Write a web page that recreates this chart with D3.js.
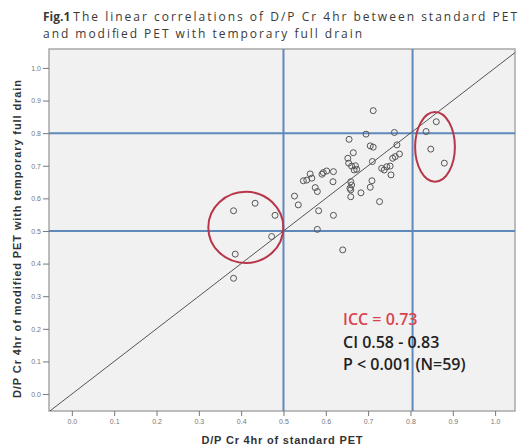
<!DOCTYPE html>
<html>
<head>
<meta charset="utf-8">
<script src="https://cdn.jsdelivr.net/npm/d3@7"></script>
<style>
  body { margin: 0; background: #fff; }
  svg { display: block; }
</style>
</head>
<body>
<svg></svg>
<script>
const width = 519;
const height = 447;

// D/P Cr 4hr: standard PET (x) vs modified PET with temporary full drain (y)
const standardPET = [
    0.712, 0.695, 0.762, 0.655, 0.705, 0.712, 0.768, 0.665, 0.774, 0.764,
    0.758, 0.652, 0.654, 0.661, 0.710, 0.673, 0.667, 0.732, 0.744, 0.752,
    0.738, 0.754, 0.594, 0.602, 0.618, 0.591, 0.563, 0.567, 0.547, 0.555,
    0.617, 0.659, 0.661, 0.657, 0.659, 0.709, 0.705, 0.575, 0.580, 0.683,
    0.659, 0.526, 0.535, 0.727, 0.583, 0.618, 0.580, 0.640, 0.382, 0.433,
    0.480, 0.472, 0.386, 0.382, 0.861, 0.837, 0.848, 0.880, 0.670
];
const modifiedPET = [
    0.869, 0.797, 0.802, 0.781, 0.761, 0.757, 0.764, 0.740, 0.736, 0.728,
    0.723, 0.723, 0.708, 0.699, 0.713, 0.689, 0.687, 0.692, 0.697, 0.699,
    0.687, 0.672, 0.679, 0.684, 0.682, 0.674, 0.675, 0.662, 0.654, 0.656,
    0.651, 0.651, 0.641, 0.631, 0.626, 0.654, 0.634, 0.633, 0.621, 0.617,
    0.605, 0.607, 0.580, 0.590, 0.562, 0.548, 0.505, 0.442, 0.562, 0.585,
    0.548, 0.483, 0.429, 0.355, 0.835, 0.805, 0.751, 0.708, 0.700
];

const tickValues = [0, 0.1, 0.2, 0.3, 0.4, 0.5, 0.6, 0.7, 0.8, 0.9, 1.0];
const xRefLines = [0.5, 0.805];
const yRefLines = [0.5, 0.8];

// highlighted groups: [cx, cy, rx, ry] in data units
const highlightEllipses = [
    [0.411, 0.511, 0.0886, 0.109],
    [0.858, 0.758, 0.047, 0.107]
];

const statsLines = ["ICC = 0.73", "CI 0.58 - 0.83", "P < 0.001 (N=59)"];

const plot = { left: 49, top: 49, right: 515, bottom: 411 };

const svg = d3.select("svg")
    .attr("width", width)
    .attr("height", height);

const x = d3.scaleLinear().domain([-0.054, 1.047]).range([plot.left, plot.right]);
const y = d3.scaleLinear().domain([-0.052, 1.058]).range([plot.bottom, plot.top]);

// title (bold "Fig.1" then the caption, stretched to the reference width)
const titleFont = "'Open Sans', sans-serif";
const figLabel = svg.append("text")
    .attr("x", 43)
    .attr("y", 21)
    .style("font-family", titleFont)
    .style("font-size", "12px")
    .style("font-weight", "bold")
    .style("fill", "#3a3a3a")
    .text("Fig.1");
const figW = figLabel.node().getComputedTextLength();

svg.append("text")
    .attr("x", 43 + figW + 3)
    .attr("y", 21)
    .attr("textLength", 517 - (43 + figW + 3))
    .attr("lengthAdjust", "spacing")
    .style("font-family", titleFont)
    .style("font-size", "12px")
    .style("fill", "#3a3a3a")
    .text("The linear correlations of D/P Cr 4hr between standard PET");
svg.append("text")
    .attr("x", 43)
    .attr("y", 37.5)
    .attr("textLength", 319)
    .attr("lengthAdjust", "spacing")
    .style("font-family", titleFont)
    .style("font-size", "12px")
    .style("fill", "#3a3a3a")
    .text("and modified PET with temporary full drain");

// plot background
svg.append("rect")
    .attr("x", plot.left)
    .attr("y", plot.top)
    .attr("width", plot.right - plot.left)
    .attr("height", plot.bottom - plot.top)
    .style("fill", "#f1f1f1")
    .style("stroke", "#a8a8a8")
    .style("stroke-width", 1.5);

svg.append("clipPath").attr("id", "clip")
    .append("rect")
    .attr("x", plot.left)
    .attr("y", plot.top)
    .attr("width", plot.right - plot.left)
    .attr("height", plot.bottom - plot.top);

const g = svg.append("g").attr("clip-path", "url(#clip)");

// reference lines
g.selectAll(".xref")
    .data(xRefLines)
    .enter()
    .append("line")
    .attr("x1", d => x(d)).attr("x2", d => x(d))
    .attr("y1", plot.top).attr("y2", plot.bottom)
    .style("stroke", "#5f88bd")
    .style("stroke-width", 2);

g.selectAll(".yref")
    .data(yRefLines)
    .enter()
    .append("line")
    .attr("y1", d => y(d)).attr("y2", d => y(d))
    .attr("x1", plot.left).attr("x2", plot.right)
    .style("stroke", "#5f88bd")
    .style("stroke-width", 2);

// identity line
g.append("line")
    .attr("x1", x(-0.06)).attr("y1", y(-0.06))
    .attr("x2", x(1.1)).attr("y2", y(1.1))
    .style("stroke", "#555")
    .style("stroke-width", 1);

// points
const pts = standardPET.map((v, i) => [v, modifiedPET[i]]);
g.selectAll(".pt")
    .data(pts)
    .enter()
    .append("circle")
    .attr("cx", d => x(d[0]))
    .attr("cy", d => y(d[1]))
    .attr("r", 3)
    .style("fill", "none")
    .style("stroke", "#555")
    .style("stroke-width", 1);

// highlight ellipses
g.selectAll(".hl")
    .data(highlightEllipses)
    .enter()
    .append("ellipse")
    .attr("cx", d => x(d[0]))
    .attr("cy", d => y(d[1]))
    .attr("rx", d => x(d[2]) - x(0))
    .attr("ry", d => y(0) - y(d[3]))
    .style("fill", "none")
    .style("stroke", "#b8364a")
    .style("stroke-width", 2);

// stats text
svg.selectAll(".stat")
    .data(statsLines)
    .enter()
    .append("text")
    .attr("x", 343)
    .attr("y", (d, i) => 325 + i * 22.5)
    .style("font-family", "'Open Sans', sans-serif")
    .style("font-size", "16px")
    .style("font-weight", 600)
    .style("fill", (d, i) => i === 0 ? "#d9434f" : "#222")
    .text(d => d);

// axes
const fmt = d3.format(".1f");
const xAxis = svg.append("g")
    .attr("transform", `translate(0,${plot.bottom})`)
    .call(d3.axisBottom(x).tickValues(tickValues).tickFormat(fmt).tickSize(5).tickPadding(3));
const yAxis = svg.append("g")
    .attr("transform", `translate(${plot.left},0)`)
    .call(d3.axisLeft(y).tickValues(tickValues).tickFormat(fmt).tickSize(6).tickPadding(2));

[xAxis, yAxis].forEach(ax => {
    ax.select(".domain").remove();
    ax.selectAll("line").style("stroke", "#777");
    ax.selectAll("text")
        .style("font-family", "'Liberation Sans', Arial, sans-serif")
        .style("font-size", "7px")
        .style("fill", "#777");
});

// axis titles
svg.append("text")
    .attr("x", 282)
    .attr("y", 444)
    .attr("text-anchor", "middle")
    .attr("textLength", 161)
    .attr("lengthAdjust", "spacing")
    .style("font-family", "'Liberation Sans', Arial, sans-serif")
    .style("font-size", "11px")
    .style("font-weight", "bold")
    .style("fill", "#333")
    .text("D/P Cr 4hr of standard PET");

svg.append("text")
    .attr("transform", "translate(21,239) rotate(-90)")
    .attr("text-anchor", "middle")
    .attr("textLength", 318)
    .attr("lengthAdjust", "spacing")
    .style("font-family", "'Liberation Sans', Arial, sans-serif")
    .style("font-size", "11px")
    .style("font-weight", "bold")
    .style("fill", "#333")
    .text("D/P Cr 4hr of modified PET with temporary full drain");
</script>
</body>
</html>
